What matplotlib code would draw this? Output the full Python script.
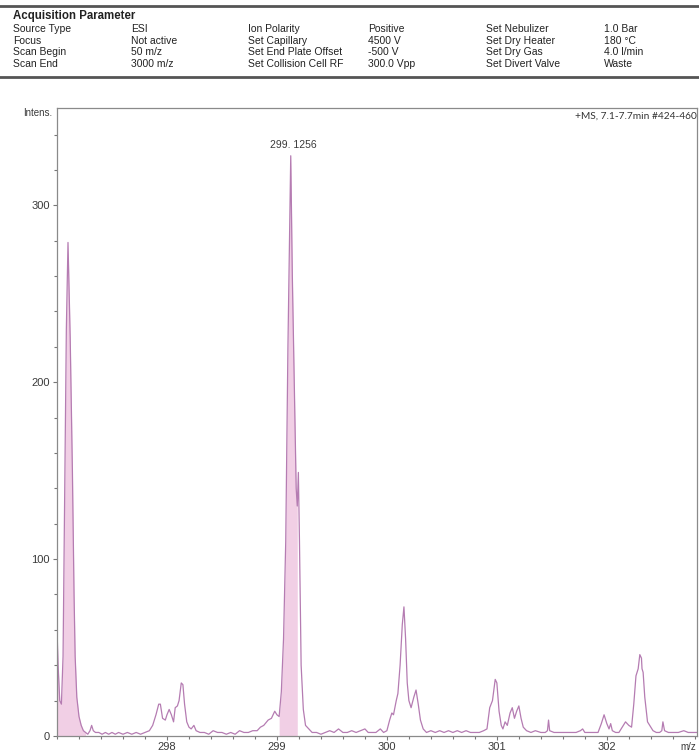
import matplotlib
matplotlib.use("Agg")
import matplotlib.pyplot as plt
import numpy as np
from matplotlib.ticker import MultipleLocator

plt.rcParams['font.family'] = ['Liberation Sans', 'DejaVu Sans']

# acquisition parameter table (label, value) pairs, three column groups
param_labels = [["Source Type", "Focus", "Scan Begin", "Scan End"],
                ["Ion Polarity", "Set Capillary", "Set End Plate Offset", "Set Collision Cell RF"],
                ["Set Nebulizer", "Set Dry Heater", "Set Dry Gas", "Set Divert Valve"]]
param_values = [["ESI", "Not active", "50 m/z", "3000 m/z"],
                ["Positive", "4500 V", "-500 V", "300.0 Vpp"],
                ["1.0 Bar", "180 °C", "4.0 l/min", "Waste"]]

# profile spectrum
mz = np.array([
    297.000, 297.010, 297.025, 297.040, 297.055, 297.070, 297.085, 297.100, 297.120, 297.140,
    297.155, 297.165, 297.180, 297.200, 297.220, 297.240, 297.260, 297.280, 297.300, 297.315,
    297.330, 297.350, 297.380, 297.410, 297.440, 297.470, 297.500, 297.530, 297.560,
    297.600, 297.640, 297.680, 297.720, 297.760, 297.800, 297.840, 297.870, 297.900, 297.925,
    297.940, 297.960, 297.985, 298.000, 298.020, 298.040, 298.060, 298.075, 298.095, 298.110,
    298.130, 298.145, 298.160, 298.180, 298.200, 298.220, 298.245, 298.265, 298.300, 298.340,
    298.380, 298.420, 298.460, 298.500, 298.540, 298.580, 298.620, 298.660, 298.700, 298.740,
    298.780, 298.820, 298.850, 298.880, 298.920, 298.950, 298.980, 299.000, 299.020, 299.040,
    299.060, 299.080, 299.100, 299.1256, 299.140, 299.160, 299.175, 299.185, 299.195, 299.205,
    299.220, 299.240, 299.260, 299.290, 299.320, 299.360, 299.400, 299.440, 299.480, 299.520,
    299.560, 299.600, 299.640, 299.680, 299.720, 299.760, 299.800, 299.830, 299.860, 299.900,
    299.940, 299.970, 300.000, 300.025, 300.045, 300.060, 300.085, 300.100, 300.120, 300.140,
    300.155, 300.170, 300.185, 300.200, 300.220, 300.245, 300.265, 300.285, 300.305, 300.330,
    300.360, 300.400, 300.440, 300.480, 300.520, 300.560, 300.600, 300.640, 300.680, 300.720,
    300.760, 300.800, 300.840, 300.880, 300.910, 300.935, 300.960, 300.985, 301.000, 301.020,
    301.040, 301.055, 301.075, 301.095, 301.120, 301.140, 301.160, 301.180, 301.200, 301.220,
    301.240, 301.270, 301.310, 301.350, 301.400, 301.440, 301.460, 301.470, 301.480, 301.520,
    301.560, 301.600, 301.640, 301.680, 301.720, 301.760, 301.780, 301.800, 301.840, 301.880,
    301.920, 301.950, 301.975, 302.000, 302.020, 302.035, 302.050, 302.080, 302.110, 302.140,
    302.170, 302.200, 302.225, 302.245, 302.265, 302.285, 302.300, 302.315, 302.320, 302.330,
    302.345, 302.370, 302.400, 302.420, 302.450, 302.480, 302.500, 302.510, 302.525, 302.560,
    302.600, 302.650, 302.700, 302.740, 302.780, 302.820])
intens = np.array([
    60, 40, 20, 18, 45, 140, 230, 279, 225, 150,
    80, 45, 22, 11, 6, 3, 2, 1, 3, 6,
    3, 2, 2, 1, 2, 1, 2, 1, 2,
    1, 2, 1, 2, 1, 2, 3, 6, 12, 18,
    18, 10, 9, 12, 15, 12, 8, 16, 17, 20,
    30, 29, 18, 8, 5, 4, 6, 3, 2, 2,
    1, 3, 2, 2, 1, 2, 1, 3, 2, 2,
    3, 3, 5, 6, 9, 10, 14, 12, 11, 25,
    55, 110, 220, 328, 260, 190, 140, 130, 149, 110,
    40, 15, 6, 4, 2, 2, 1, 2, 3, 2,
    4, 2, 2, 3, 2, 3, 4, 2, 2, 2,
    4, 2, 3, 9, 13, 12, 20, 24, 40, 63,
    73, 55, 30, 20, 16, 22, 26, 18, 9, 4,
    2, 3, 2, 3, 2, 3, 2, 3, 2, 3,
    2, 2, 2, 3, 4, 16, 20, 32, 30, 14,
    6, 4, 8, 6, 13, 16, 10, 14, 17, 10,
    5, 3, 2, 3, 2, 2, 3, 9, 3, 2,
    2, 2, 2, 2, 2, 3, 4, 2, 2, 2,
    2, 7, 12, 7, 4, 7, 3, 2, 2, 5,
    8, 6, 5, 18, 34, 38, 46, 44, 38, 36,
    22, 8, 5, 3, 2, 2, 3, 8, 3, 2,
    2, 2, 3, 2, 2, 2])

# integrated regions (m/z limits)
fill_ranges = [(297.000, 297.260), (299.020, 299.185)]
peak_label_mz = 299.1256
x_labels = [298, 299, 300, 301, 302]

line_color = '#b57cb2'
fill_color = '#f1cfe5'
text_color = '#3a3a3a'

fig = plt.figure(figsize=(6.99, 7.55), dpi=100)

# header block
fig.add_artist(plt.Line2D([0.0, 1.0], [1 - 6 / 755, 1 - 6 / 755], color='#555555', lw=2.0))
fig.add_artist(plt.Line2D([0.0, 1.0], [1 - 77 / 755, 1 - 77 / 755], color='#555555', lw=2.0))
fig.text(13 / 699, 1 - 16 / 755, "Acquisition Parameter", fontsize=8.3, fontweight='bold',
         color='#222222', va='center')
col_x = [(13, 131), (248, 368), (486, 604)]
for (lx, vx), labels, values in zip(col_x, param_labels, param_values):
    for i, (lab, val) in enumerate(zip(labels, values)):
        y = 1 - (29 + 11.6 * i) / 755
        fig.text(lx / 699, y, lab, fontsize=7.5, color='#222222', va='center')
        fig.text(vx / 699, y, val, fontsize=7.5, color='#222222', va='center')

ax = fig.add_axes([57 / 699, 1 - 736 / 755, 640 / 699, 628 / 755])
ax.plot(mz, intens, color=line_color, lw=0.9)
for lo, hi in fill_ranges:
    sel = (mz >= lo) & (mz <= hi)
    ax.fill_between(mz[sel], 0, intens[sel], color=fill_color, lw=0)

ax.set_xlim(297.0, 302.82)
ax.set_ylim(0, 355)
ax.set_xticks(x_labels)
ax.xaxis.set_minor_locator(MultipleLocator(0.2))
ax.yaxis.set_major_locator(MultipleLocator(100))
ax.yaxis.set_minor_locator(MultipleLocator(20))
ax.tick_params(which='both', direction='out', color='#777777', labelcolor=text_color,
               labelsize=8, width=0.8)
ax.tick_params(which='major', length=3)
ax.tick_params(which='minor', length=2.5)
ax.tick_params(axis='x', pad=1)
ax.tick_params(axis='y', pad=2)
for s in ax.spines.values():
    s.set_color('#8a8a8a')
    s.set_linewidth(0.9)

ax.text(-0.008, 1.0 - 5 / 628, "Intens.", transform=ax.transAxes, ha='right', va='center',
        fontsize=7, color=text_color)
ax.text(0.999, -0.017, "m/z", transform=ax.transAxes, ha='right', va='center',
        fontsize=7, color=text_color)
ax.text(1.0, 1.0 - 8 / 628, "+MS, 7.1-7.7min #424-460", transform=ax.transAxes, ha='right',
        va='center', fontsize=7.3, color='#333333', family=['Lato', 'DejaVu Sans'])

peak_y = intens[np.argmin(np.abs(mz - peak_label_mz))]
ax.annotate("299. 1256", (peak_label_mz, peak_y), xytext=(2, 4), textcoords='offset points',
            ha='center', va='bottom', fontsize=7.5, color=text_color)

fig.savefig("out.png", dpi=100)
